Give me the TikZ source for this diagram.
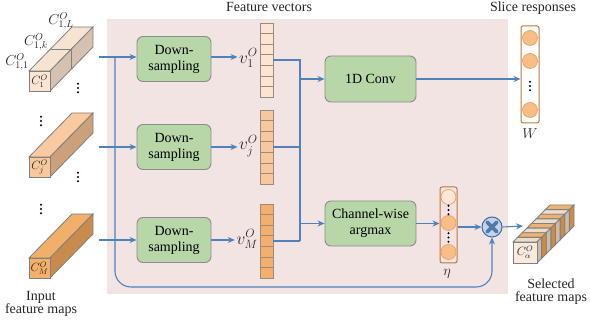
\documentclass[tikz,border=0pt]{standalone}
\usepackage{fontspec}
\setmainfont{Liberation Serif}
\usetikzlibrary{arrows.meta,calc}

\definecolor{bgpink}{HTML}{F3E4E4}
\definecolor{boxgreen}{HTML}{B7D7A8}
\definecolor{boxedge}{HTML}{8C8C8C}
\definecolor{flow}{HTML}{4F81BD}
\definecolor{coledge}{HTML}{C0763A}
\definecolor{ballfill}{HTML}{F8BE88}
\definecolor{balledge}{HTML}{EFA060}
\definecolor{balllight}{HTML}{FCE8DA}
\definecolor{cellA}{HTML}{FCE4D2}
\definecolor{cellB}{HTML}{F9C79C}
\definecolor{cellC}{HTML}{F4B06A}
\definecolor{celledge}{HTML}{9A8A80}
\definecolor{mulfill}{HTML}{C3D4EA}
\definecolor{muledge}{HTML}{3D6BA3}
\definecolor{sliceL}{HTML}{EADBCB}
\definecolor{sliceLs}{HTML}{CBBBAB}
\definecolor{sliceO}{HTML}{EDB273}
\definecolor{sliceOs}{HTML}{D08A45}
\definecolor{frontL}{HTML}{F8EADC}
\definecolor{topA}{HTML}{F6E3D2}
\definecolor{sideA}{HTML}{D6C1B0}
\definecolor{topB}{HTML}{F9C9A0}
\definecolor{sideB}{HTML}{CDA07C}
\definecolor{topC}{HTML}{F1B06A}
\definecolor{sideC}{HTML}{C78B4E}

\newcommand\fs[1]{\fontsize{#1}{#1}\selectfont}

% one input feature map drawn as a long box: x, y of front top-left, front, top, side colours
\newcommand\featcuboid[5]{%
  \filldraw[cubeline, fill=#4] (#1,#2) -- ++(43,-44) -- ++(21,0) -- ++(-43,44) -- cycle;
  \filldraw[cubeline, fill=#5] (#1+21,#2) -- ++(43,-44) -- ++(0,20) -- ++(-43,44) -- cycle;
  \filldraw[cubeline, fill=#3] (#1,#2) rectangle ++(21,20);
}
% three dots in a column
\newcommand\dotcol[3]{%
  \foreach \d in {-1,0,1} \fill[#3] (#1,#2+\d*4.2) circle (1.15);
}

\begin{document}
\begin{tikzpicture}[x=1pt,y=-1pt,
  txt/.style={font=\fs{14}, text=black!85, inner sep=0pt, align=center},
  mlab/.style={font=\fs{14}, text=black!85, inner sep=0pt},
  facelab/.style={font=\fs{12}, text=black!85, inner sep=0pt},
  vlab/.style={font=\fs{17}, text=black!85, inner sep=0pt, anchor=east},
  procbox/.style={draw=boxedge, line width=0.9pt, fill=boxgreen, rounded corners=6pt,
                  font={\fontsize{14}{16}\selectfont}, align=center, inner sep=0pt},
  arr/.style={draw=flow, line width=1.1pt, -{Stealth[length=7pt,width=6pt]}},
  ln/.style={draw=flow, line width=1.1pt},
  cubeline/.style={draw=black!50, line width=0.8pt},
  cell/.style={draw=celledge, line width=0.7pt},
  colbox/.style={draw=coledge, line width=1pt, rounded corners=2pt, inner sep=0pt},
  ball/.style={circle, draw=balledge, line width=0.7pt, fill=ballfill, minimum size=15pt, inner sep=0pt},
]
\useasboundingbox (0,0) rectangle (590,328);

% shaded processing area
\fill[bgpink] (107,19) rectangle (508,294);

% ---------------- input feature maps ----------------
\featcuboid{29}{71}{cellA}{topA}{sideA}
\draw[cubeline] (50.5,49) -- (71.5,49) -- (71.5,69);
\featcuboid{29}{157}{cellB}{topB}{sideB}
\featcuboid{29}{258}{cellC}{topC}{sideC}

\node[facelab] (c1) at (39.5,81) {$C_1^{O}$};
\node[facelab] (cj) at (39.5,167) {$C_j^{O}$};
\node[facelab] (cm) at (39.5,268) {$C_M^{O}$};
\node[mlab] (c11) at (17,62) {$C_{1,1}^{O}$};
\node[mlab] (c1k) at (36,42) {$C_{1,k}^{O}$};
\node[mlab] (c1l) at (61,21) {$C_{1,L}^{O}$};

\dotcol{78}{88}{black}
\dotcol{41}{121}{black}
\dotcol{78}{177}{black}
\dotcol{41}{209}{black}

\node[txt] (inlab) at (41,304) {Input\\[-1pt]feature maps};

% ---------------- down-sampling ----------------
\node[procbox, minimum width=74pt, minimum height=45pt] (ds1) at (174,59) {Down-\\sampling};
\node[procbox, minimum width=74pt, minimum height=45pt] (ds2) at (174,147) {Down-\\sampling};
\node[procbox, minimum width=74pt, minimum height=45pt] (ds3) at (174,240) {Down-\\sampling};

\coordinate (s1) at (99,57);
\coordinate (s2) at (99,147);
\coordinate (s3) at (99,240);
\draw[arr] (s1) -- (s1 -| ds1.west);
\draw[arr] (s2) -- (s2 -| ds2.west);
\draw[arr] (s3) -- (s3 -| ds3.west);

% ---------------- feature vectors ----------------
\node[txt] (fvlab) at (269,7) {Feature vectors};

\node[minimum width=13pt, minimum height=74pt, inner sep=0pt] (vec1) at (266.5,60) {};
\node[minimum width=13pt, minimum height=74pt, inner sep=0pt] (vec2) at (266.5,147) {};
\node[minimum width=13pt, minimum height=74pt, inner sep=0pt] (vec3) at (266.5,241) {};
\foreach \k in {0,...,6} {
  \filldraw[cell, fill=cellA] (260,23+\k*10.571) rectangle ++(13,10.571);
  \filldraw[cell, fill=cellB] (260,110+\k*10.571) rectangle ++(13,10.571);
  \filldraw[cell, fill=cellC] (260,204+\k*10.571) rectangle ++(13,10.571);
}

\node[vlab] (v1) at (258,58) {$v_1^{O}$};
\node[vlab] (vj) at (258,146) {$v_j^{O}$};
\node[vlab] (vm) at (258,239) {$v_M^{O}$};

\draw[arr] (ds1.east |- s1) -- ($(v1.west |- s1)+(-1.5,0)$);
\draw[arr] (ds2.east) -- ($(vj.west |- ds2.east)+(-1.5,0)$);
\draw[arr] (ds3.east) -- ($(vm.west |- ds3.east)+(-1.5,0)$);

% collector of the three vectors
\coordinate (bus) at (300,60);
\draw[ln] (vec1.east) -- (bus) -- (300,241);
\draw[ln] (vec2.east) -- (300,147);
\draw[ln] (vec3.east) -- (300,241);

% ---------------- 1D conv and argmax ----------------
\node[procbox, minimum width=91pt, minimum height=46pt] (conv) at (370.5,79) {1D Conv};
\node[procbox, minimum width=91pt, minimum height=45pt] (cwa) at (370.5,223.5) {Channel-wise\\argmax};
\draw[arr] (300,79) -- (conv.west);
\draw[arr] (300,223.5) -- (cwa.west);

% ---------------- slice responses W ----------------
\node[txt] (srlab) at (533,8) {Slice responses};
\node[colbox, minimum width=18pt, minimum height=97pt] (wcol) at (530,74.5) {};
\node[ball] (w1) at (530,38) {};
\node[ball] (w2) at (530,61) {};
\node[ball] (w3) at (530,110) {};
\dotcol{530}{86}{black}
\node[mlab] (wlab) at (530,134) {$W$};
\draw[arr] (conv.east) -- (wcol.west |- conv.east);

% ---------------- eta ----------------
\node[colbox, minimum width=17pt, minimum height=76pt] (eta) at (448.5,225) {};
\node[ball, fill=balllight] (e1) at (448.5,197) {};
\node[ball] (e2) at (448.5,223) {};
\node[ball] (e3) at (448.5,252) {};
\dotcol{448.5}{210}{black}
\dotcol{448.5}{237.5}{black}
\node[mlab] (etalab) at (447,274) {$\eta$};
\draw[arr] (cwa.east) -- (eta.west |- cwa.east);

% ---------------- selection ----------------
\node[circle, draw=muledge, line width=1pt, fill=mulfill, minimum size=20pt, inner sep=0pt] (mul) at (492,227) {};
\draw[muledge!90, line width=3.8pt, line cap=round]
  ($(mul.center)+(-4.8,-4.8)$) -- ($(mul.center)+(4.8,4.8)$)
  ($(mul.center)+(-4.8,4.8)$) -- ($(mul.center)+(4.8,-4.8)$);
\draw[arr] (eta.east |- mul.west) -- (mul.west);

% bypass from the inputs to the selection
\draw[arr, rounded corners=16pt] (115,57) |- (492,287) -- (mul.south);

% selected feature maps, sliced along the channel axis
\foreach \k in {7,6,...,0} {
  \pgfmathsetmacro\ta{\k/8}
  \pgfmathsetmacro\tb{(\k+1)/8}
  \pgfmathtruncatemacro\odd{mod(\k,2)}
  \ifnum\odd=1
    \def\ctop{sliceO}\def\cside{sliceOs}
  \else
    \def\ctop{sliceL}\def\cside{sliceLs}
  \fi
  \filldraw[cubeline, fill=\ctop] (513+37*\ta,242-37*\ta) -- (513+37*\tb,242-37*\tb)
     -- (537+37*\tb,242-37*\tb) -- (537+37*\ta,242-37*\ta) -- cycle;
  \filldraw[cubeline, fill=\cside] (537+37*\ta,242-37*\ta) -- (537+37*\tb,242-37*\tb)
     -- (537+37*\tb,263-37*\tb) -- (537+37*\ta,263-37*\ta) -- cycle;
}
\filldraw[cubeline, fill=frontL] (513,242) rectangle (537,263);
\node[facelab] (calpha) at (525,252.5) {$C_\alpha^{O}$};
\coordinate (selin) at (523,226);
\draw[arr] (mul.east) -- (selin);

\node[txt] (sellab) at (551,292) {Selected\\[-1pt]feature maps};
\end{tikzpicture}
\end{document}
